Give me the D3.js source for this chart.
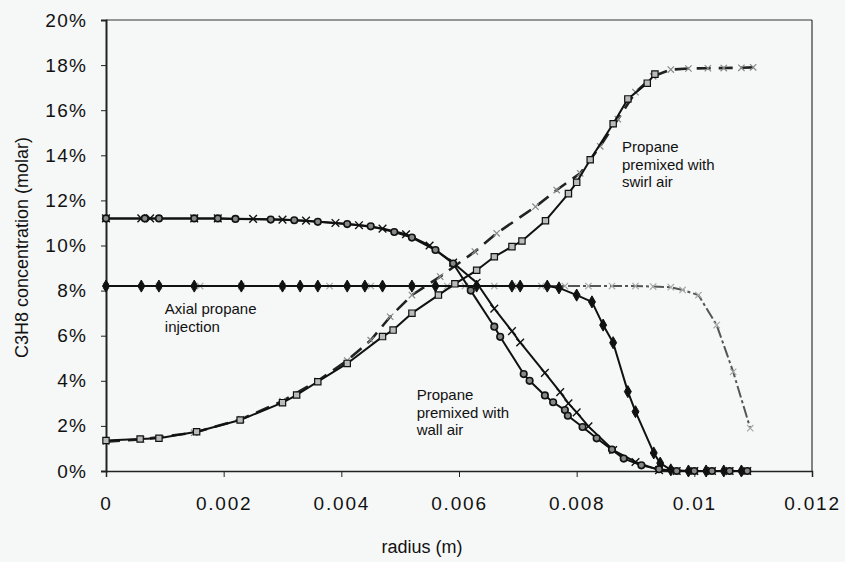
<!DOCTYPE html>
<html><head><meta charset="utf-8">
<script src="https://cdn.jsdelivr.net/npm/d3@7"></script>
<style>
html,body{margin:0;padding:0;background:#f6f8f8;}
svg{display:block;}
text{font-family:"Liberation Sans",Arial,sans-serif;fill:#111;}
</style></head>
<body>
<svg id="chart" width="845" height="562"></svg>
<script>
// ---- data (radius in m, concentration in %) ----
const xTicks = [0, 0.002, 0.004, 0.006, 0.008, 0.01, 0.012];
const xTickLabels = ["0", "0.002", "0.004", "0.006", "0.008", "0.01", "0.012"];
const yTicks = [0, 2, 4, 6, 8, 10, 12, 14, 16, 18, 20];
const yTickLabels = ["0%", "2%", "4%", "6%", "8%", "10%", "12%", "14%", "16%", "18%", "20%"];

const wallCircR = [0, 0.00066, 0.0009, 0.0015, 0.0019, 0.0022, 0.0028, 0.0032, 0.0036, 0.0041, 0.0045, 0.0049, 0.0052, 0.0056, 0.0059, 0.0062, 0.0066, 0.0067, 0.0071, 0.0072, 0.00746, 0.0076, 0.0078, 0.00785, 0.0081, 0.00834, 0.0086, 0.0088, 0.0091, 0.0094, 0.0097, 0.0100, 0.0103, 0.0106, 0.0109];
const wallCircV = [11.2, 11.2, 11.2, 11.2, 11.2, 11.18, 11.15, 11.12, 11.05, 10.95, 10.85, 10.6, 10.35, 9.8, 9.2, 8.0, 6.4, 5.95, 4.3, 4.0, 3.35, 3.05, 2.7, 2.45, 1.95, 1.45, 0.95, 0.55, 0.25, 0.08, 0, 0, 0, 0, 0];

const wallCrossR = [0, 0.0006, 0.00075, 0.0015, 0.0019, 0.0025, 0.003, 0.0034, 0.0039, 0.0043, 0.0047, 0.0051, 0.0055, 0.0059, 0.0063, 0.0066, 0.0069, 0.00704, 0.00746, 0.00772, 0.00786, 0.0080, 0.0082, 0.00862, 0.009, 0.0094, 0.0097, 0.01, 0.0103, 0.0106, 0.0109];
const wallCrossV = [11.2, 11.2, 11.2, 11.2, 11.2, 11.18, 11.15, 11.1, 11.0, 10.9, 10.75, 10.5, 10.0, 9.24, 8.35, 7.2, 6.2, 5.7, 4.35, 3.5, 3.0, 2.6, 1.98, 0.93, 0.4, 0.04, 0, 0, 0, 0, 0];

const axialDiaR = [0, 0.0006, 0.0009, 0.0015, 0.0023, 0.003, 0.0033, 0.0036, 0.0041, 0.0044, 0.0047, 0.0052, 0.0056, 0.0063, 0.0069, 0.00704, 0.0075, 0.0077, 0.0080, 0.00826, 0.00845, 0.00862, 0.00887, 0.009, 0.00931, 0.00942, 0.0096, 0.0099, 0.0102, 0.0105, 0.0108];
const axialDiaV = [8.2, 8.2, 8.2, 8.2, 8.2, 8.2, 8.2, 8.2, 8.2, 8.2, 8.2, 8.2, 8.2, 8.2, 8.2, 8.2, 8.2, 8.12, 7.8, 7.5, 6.47, 5.69, 3.52, 2.63, 0.8, 0.35, 0.05, 0, 0, 0, 0];

const axialGrayR = [0, 0.0009, 0.0016, 0.0023, 0.003, 0.0038, 0.0045, 0.0052, 0.0058, 0.0061, 0.0066, 0.007, 0.0074, 0.0078, 0.0082, 0.0086, 0.009, 0.0093, 0.0096, 0.0098, 0.01007, 0.01038, 0.01066, 0.01095];
const axialGrayV = [8.2, 8.2, 8.2, 8.2, 8.2, 8.2, 8.2, 8.2, 8.2, 8.2, 8.2, 8.2, 8.2, 8.2, 8.2, 8.2, 8.2, 8.18, 8.15, 8.03, 7.8, 6.47, 4.4, 1.9];

const swirlSqR = [0, 0.00058, 0.0009, 0.00154, 0.00228, 0.003, 0.00324, 0.0036, 0.0041, 0.0047, 0.00488, 0.0052, 0.00565, 0.00593, 0.0063, 0.0066, 0.0069, 0.00707, 0.00747, 0.00786, 0.008, 0.00823, 0.00862, 0.00887, 0.0092, 0.00933];
const swirlSqV = [1.35, 1.42, 1.45, 1.74, 2.26, 3.03, 3.37, 3.96, 4.77, 5.96, 6.25, 7.0, 7.8, 8.3, 8.9, 9.5, 9.95, 10.2, 11.1, 12.3, 12.8, 13.8, 15.4, 16.5, 17.2, 17.6];

const swirlDashR = [0, 0.0006, 0.0015, 0.0023, 0.003, 0.0036, 0.0041, 0.0045, 0.00483, 0.0052, 0.00568, 0.00627, 0.00664, 0.0073, 0.00766, 0.00806, 0.0084, 0.0087, 0.009, 0.0093, 0.0096, 0.0099, 0.01023, 0.0105, 0.0108, 0.011];
const swirlDashV = [1.3, 1.4, 1.7, 2.3, 3.1, 4.0, 4.9, 5.8, 6.84, 7.8, 8.62, 9.73, 10.54, 11.72, 12.46, 13.2, 14.4, 15.6, 16.8, 17.5, 17.8, 17.85, 17.86, 17.87, 17.88, 17.9];

const annotations = [
  {lines: ["Propane", "premixed with", "swirl air"], r: 0.00877, v: 14.15},
  {lines: ["Axial propane", "injection"], r: 0.001, v: 6.95},
  {lines: ["Propane", "premixed with", "wall air"], r: 0.00528, v: 3.15}
];

// ---- chart ----
const svg = d3.select("#chart");
const x = d3.scaleLinear().domain([0, 0.012]).range([106, 812]);
const y = d3.scaleLinear().domain([0, 20]).range([471, 20]);

// frame (top & right)
svg.append("line").attr("x1", x(0)).attr("x2", x(0.012)).attr("y1", y(20)).attr("y2", y(20))
  .attr("stroke", "#333").attr("stroke-width", 1.2);
svg.append("line").attr("x1", x(0.012)).attr("x2", x(0.012)).attr("y1", y(20)).attr("y2", y(0))
  .attr("stroke", "#333").attr("stroke-width", 1.2);

const xAxis = d3.axisBottom(x).tickValues(xTicks)
  .tickFormat((d, i) => xTickLabels[i]).tickSize(6).tickPadding(20);
const gx = svg.append("g").attr("transform", `translate(0,${y(0)})`).call(xAxis);
gx.select(".domain").attr("stroke", "#222").attr("stroke-width", 1.5);
gx.selectAll(".tick line").attr("stroke", "#222");
gx.selectAll("text").attr("font-size", 19).attr("letter-spacing", 1.8).attr("fill", "#111");

const yAxis = d3.axisLeft(y).tickValues(yTicks)
  .tickFormat((d, i) => yTickLabels[i]).tickSize(5).tickPadding(14);
const gy = svg.append("g").attr("transform", `translate(${x(0)},0)`).call(yAxis);
gy.select(".domain").attr("stroke", "#222").attr("stroke-width", 2);
gy.selectAll(".tick line").attr("stroke", "#222");
gy.selectAll("text").attr("font-size", 19).attr("letter-spacing", 1.2).attr("fill", "#111");

svg.append("text").attr("x", (x(0) + x(0.012)) / 2 - 37).attr("y", 553)
  .attr("text-anchor", "middle").attr("font-size", 18).text("radius (m)");
svg.append("text").attr("transform", `translate(28,${(y(0) + y(20)) / 2 + 2}) rotate(-90)`)
  .attr("text-anchor", "middle").attr("font-size", 18).text("C3H8 concentration (molar)");

const zip = (rs, vs) => rs.map((r, i) => ({r, v: vs[i]}));
const line = d3.line().x(d => x(d.r)).y(d => y(d.v));

function series(rs, vs, opt) {
  const data = zip(rs, vs);
  svg.append("path").datum(data).attr("d", line).attr("fill", "none")
    .attr("stroke", opt.stroke).attr("stroke-width", opt.width)
    .attr("stroke-dasharray", opt.dash || null).attr("stroke-linejoin", "round");
  const sym = d3.symbol().type(opt.symbol).size(opt.size);
  svg.append("g").selectAll("path").data(data).join("path")
    .attr("transform", d => `translate(${x(d.r)},${y(d.v)})`)
    .attr("d", sym)
    .attr("fill", opt.mfill).attr("stroke", opt.mstroke).attr("stroke-width", opt.mwidth);
}

series(axialGrayR, axialGrayV, {stroke: "#555", width: 2, dash: "12,3,3,3",
  symbol: d3.symbolTimes, size: 28, mfill: "none", mstroke: "#aaa", mwidth: 1.2});
series(axialDiaR, axialDiaV, {stroke: "#111", width: 2,
  symbol: d3.symbolDiamond, size: 42, mfill: "#111", mstroke: "#111", mwidth: 1});
series(swirlDashR, swirlDashV, {stroke: "#222", width: 2.6, dash: "14,8",
  symbol: d3.symbolTimes, size: 28, mfill: "none", mstroke: "#888", mwidth: 1.2});
series(swirlSqR, swirlSqV, {stroke: "#111", width: 2,
  symbol: d3.symbolSquare, size: 40, mfill: "#bbb", mstroke: "#111", mwidth: 1.2});
series(wallCrossR, wallCrossV, {stroke: "#111", width: 2,
  symbol: d3.symbolTimes, size: 40, mfill: "none", mstroke: "#111", mwidth: 1.4});
series(wallCircR, wallCircV, {stroke: "#111", width: 2,
  symbol: d3.symbolCircle, size: 34, mfill: "#888", mstroke: "#111", mwidth: 1.6});

annotations.forEach(a => {
  const t = svg.append("text").attr("x", x(a.r)).attr("y", y(a.v)).attr("font-size", 15);
  a.lines.forEach((l, i) => t.append("tspan").attr("x", x(a.r)).attr("dy", i === 0 ? 0 : 17.7).text(l));
});
</script>
</body></html>
